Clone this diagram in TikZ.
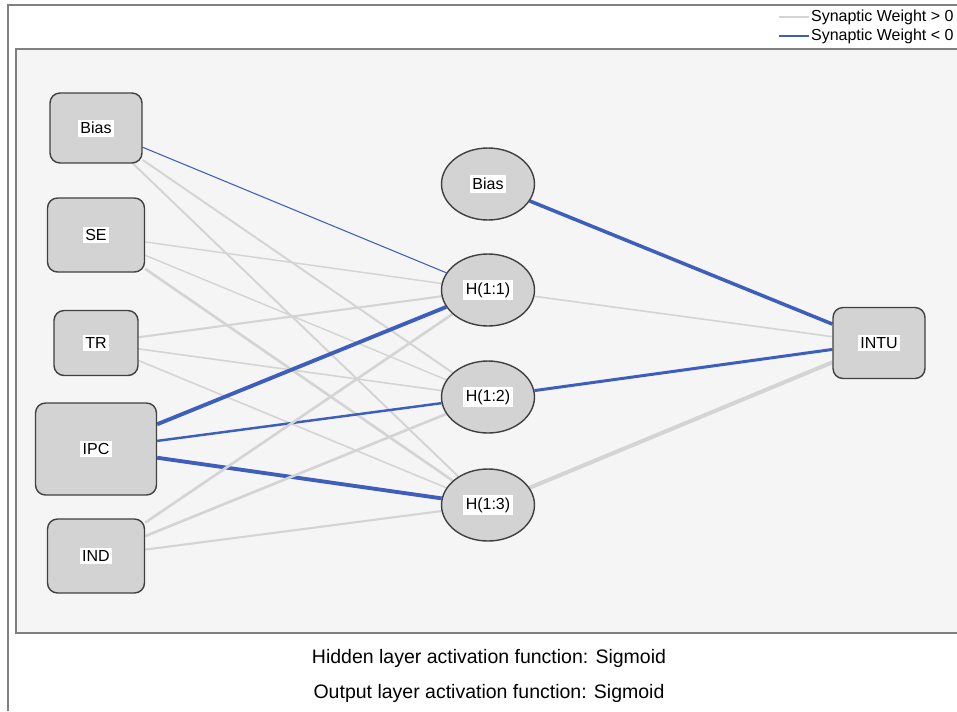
\documentclass[tikz,border=0pt]{standalone}
\usepackage{fontspec}
\setmainfont{Liberation Sans}
\usetikzlibrary{shapes.geometric,backgrounds}

\definecolor{negblue}{RGB}{62,94,190}
\definecolor{posgray}{RGB}{212,212,212}
\definecolor{unitgray}{RGB}{211,211,211}
\definecolor{plotbg}{RGB}{245,245,245}
\definecolor{framegray}{RGB}{128,128,128}

\newcommand{\unitlbl}[1]{{\setlength{\fboxsep}{1.5pt}\colorbox{white}{#1}}}

\tikzset{
  unit/.style={draw=black!75, fill=unitgray, line width=0.8pt, inner sep=0pt,
    font=\fontsize{9.1}{11}\selectfont},
  inbox/.style={unit, rectangle, rounded corners=0.2cm},
  hidunit/.style={unit, ellipse, minimum width=1.86cm, minimum height=1.44cm},
  caption/.style={font=\fontsize{11.1}{13}\selectfont},
  legendtext/.style={font=\fontsize{9.1}{11}\selectfont, inner sep=1pt, anchor=west}
}

\begin{document}
\begin{tikzpicture}[x=0.02cm,y=-0.02cm]
  \useasboundingbox (0,0) rectangle (957,711);
  % frame and plot area
  \begin{scope}[on background layer]
    \fill[white] (0,0) rectangle (957,711);
    \draw[framegray, line width=1.1pt] (8,711) -- (8,5) -- (957,5);
    \draw[framegray, line width=1.1pt, fill=plotbg] (16,633) -- (16,49) -- (960,49) -- (960,633) -- cycle;
  \end{scope}

  % legend
  \node[legendtext] (posleg) at (809,17) {Synaptic Weight > 0};
  \node[legendtext] (negleg) at (809,36) {Synaptic Weight < 0};
  \coordinate (posend) at (779,17);
  \coordinate (negend) at (779,36);
  \draw[posgray, line width=0.8pt] (posend) -- (posleg.west);
  \draw[negblue, line width=0.8pt] (negend) -- (negleg.west);

  % input layer
  \node[inbox, minimum width=1.84cm, minimum height=1.40cm] (ibias) at (96,128) {\unitlbl{Bias}};
  \node[inbox, minimum width=1.94cm, minimum height=1.48cm] (se)    at (96,235) {\unitlbl{SE}};
  \node[inbox, minimum width=1.68cm, minimum height=1.30cm] (tr)    at (96,343) {\unitlbl{TR}};
  \node[inbox, minimum width=2.42cm, minimum height=1.84cm] (ipc)   at (96,449) {\unitlbl{IPC}};
  \node[inbox, minimum width=1.94cm, minimum height=1.48cm] (ind)   at (96,556) {\unitlbl{IND}};

  % hidden layer
  \node[hidunit] (hbias) at (488,184) {\unitlbl{Bias}};
  \node[hidunit] (h1)    at (488,290) {\unitlbl{H(1:1)}};
  \node[hidunit] (h2)    at (488,397) {\unitlbl{H(1:2)}};
  \node[hidunit] (h3)    at (488,505) {\unitlbl{H(1:3)}};

  % output layer
  \node[inbox, minimum width=1.84cm, minimum height=1.42cm] (intu) at (879,343) {\unitlbl{INTU}};

  % synaptic weights
  \begin{scope}[on background layer]
    \foreach \a/\b/\c/\w in {ibias/h1/negblue/0.6, ibias/h2/posgray/1.1, ibias/h3/posgray/1.1,
                             se/h1/posgray/0.8, se/h2/posgray/0.8, se/h3/posgray/1.5,
                             tr/h1/posgray/1.2, tr/h2/posgray/0.9, tr/h3/posgray/0.9,
                             ipc/h1/negblue/2.2, ipc/h2/negblue/1.4, ipc/h3/negblue/2.2,
                             ind/h1/posgray/1.5, ind/h2/posgray/1.5, ind/h3/posgray/1.2,
                             hbias/intu/negblue/2.0, h1/intu/posgray/0.9,
                             h2/intu/negblue/1.7, h3/intu/posgray/2.3} {
      \draw[color=\c, line width=\w pt] (\a) -- (\b);
    }
  \end{scope}

  % activation functions
  \node[caption] (hidcap) at (489,658) {Hidden layer activation function: Sigmoid};
  \node[caption] (outcap) at (489,693) {Output layer activation function: Sigmoid};
\end{tikzpicture}
\end{document}
